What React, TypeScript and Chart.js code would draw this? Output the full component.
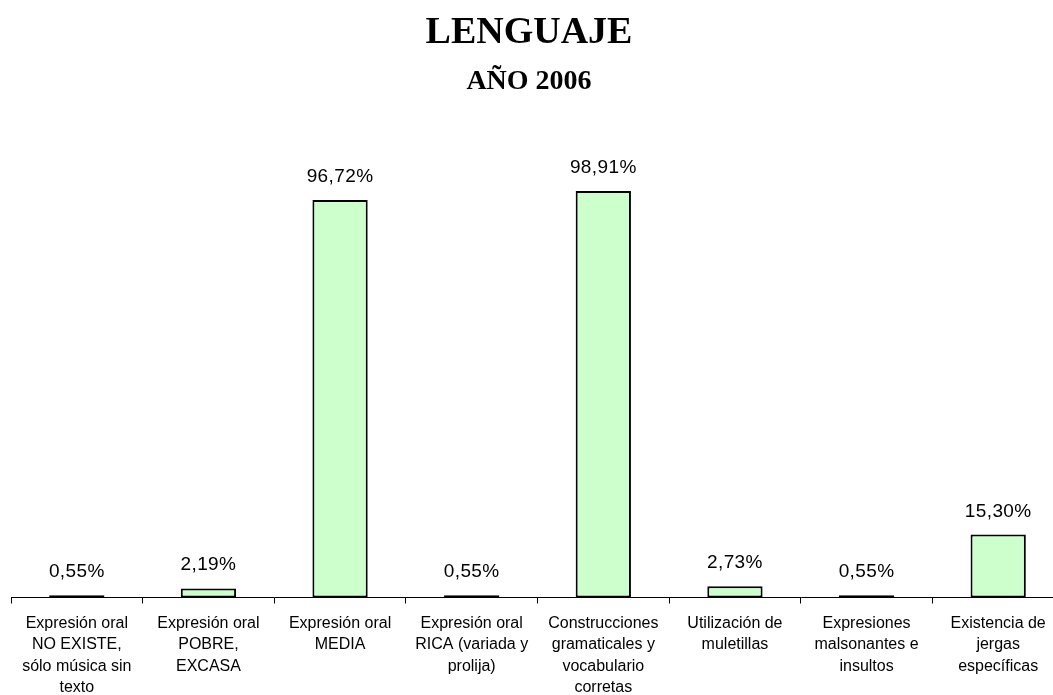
import React, { useEffect, useRef } from "react";
import { Chart, registerables } from "chart.js";

Chart.register(...registerables);

const titleText = "LENGUAJE";
const subtitleText = "AÑO 2006";

const categories: string[][] = [
  ["Expresión oral", "NO EXISTE,", "sólo música sin", "texto"],
  ["Expresión oral", "POBRE,", "EXCASA"],
  ["Expresión oral", "MEDIA"],
  ["Expresión oral", "RICA (variada y", "prolija)"],
  ["Construcciones", "gramaticales y", "vocabulario", "corretas"],
  ["Utilización de", "muletillas"],
  ["Expresiones", "malsonantes e", "insultos"],
  ["Existencia de", "jergas", "específicas"],
];

const percentValues: number[] = [0.55, 2.19, 96.72, 0.55, 98.91, 2.73, 0.55, 15.3];

const yMin = 0;
const yMax = 100;

const fmt = (v: number) => v.toFixed(2).replace(".", ",") + "%";

const labelPlugin = {
  id: "valueLabels",
  afterDatasetsDraw(chart: any) {
    const ctx = chart.ctx;
    const meta = chart.getDatasetMeta(0);
    ctx.save();
    ctx.font = "19px 'Liberation Sans', Arial, sans-serif";
    try {
      (ctx as any).letterSpacing = "0.4px";
    } catch (e) {}
    ctx.fillStyle = "#000";
    ctx.textAlign = "center";
    ctx.textBaseline = "alphabetic";
    meta.data.forEach((el: any, i: number) => {
      ctx.fillText(fmt(percentValues[i]), el.x, el.y - 18);
    });
    ctx.restore();
  },
};

const titlePlugin = {
  id: "titles",
  afterDraw(chart: any) {
    const ctx = chart.ctx;
    ctx.save();
    ctx.fillStyle = "#000";
    ctx.textAlign = "center";
    ctx.textBaseline = "alphabetic";
    ctx.font = "bold 38px 'Liberation Serif', 'Times New Roman', serif";
    ctx.fillText(titleText, 529, 43);
    ctx.font = "bold 28px 'Liberation Serif', 'Times New Roman', serif";
    ctx.fillText(subtitleText, 529, 89);
    ctx.restore();
  },
};

export default function App() {
  const ref = useRef<HTMLCanvasElement | null>(null);

  useEffect(() => {
    if (!ref.current) return;
    const chart = new Chart(ref.current, {
      type: "bar",
      data: {
        labels: categories,
        datasets: [
          {
            data: percentValues,
            backgroundColor: "#CCFFCC",
            borderColor: "#000000",
            borderWidth: 2,
            borderSkipped: false,
            barPercentage: 0.42,
            categoryPercentage: 1,
          },
        ],
      },
      options: {
        animation: false,
        responsive: false,
        layout: { padding: { left: 11, right: 11, top: 186.5, bottom: 0 } },
        plugins: {
          legend: { display: false },
          tooltip: { enabled: false },
          title: { display: false },
        },
        scales: {
          x: {
            grid: {
              display: true,
              drawOnChartArea: false,
              drawTicks: true,
              tickLength: 6,
              color: "#000",
              offset: true,
            },
            border: { display: true, color: "#000", width: 1 },
            ticks: {
              color: "#000",
              font: { family: "'Liberation Sans', Arial, sans-serif", size: 16, lineHeight: 1.34 },
              padding: 9,
              maxRotation: 0,
              minRotation: 0,
              autoSkip: false,
            },
            afterFit: (s: any) => {
              s.height = 97.5;
            },
          },
          y: {
            display: false,
            min: yMin,
            max: yMax,
          },
        },
      },
      plugins: [labelPlugin, titlePlugin],
    });
    return () => chart.destroy();
  }, []);

  return (
    <div
      style={{
        position: "fixed",
        left: 0,
        top: 0,
        width: 1053,
        height: 695,
        overflow: "hidden",
        background: "#fff",
      }}
    >
      <div style={{ position: "absolute", left: 0, top: 0, width: 1075, height: 695 }}>
        <canvas ref={ref} width={1075} height={695} />
      </div>
    </div>
  );
}
